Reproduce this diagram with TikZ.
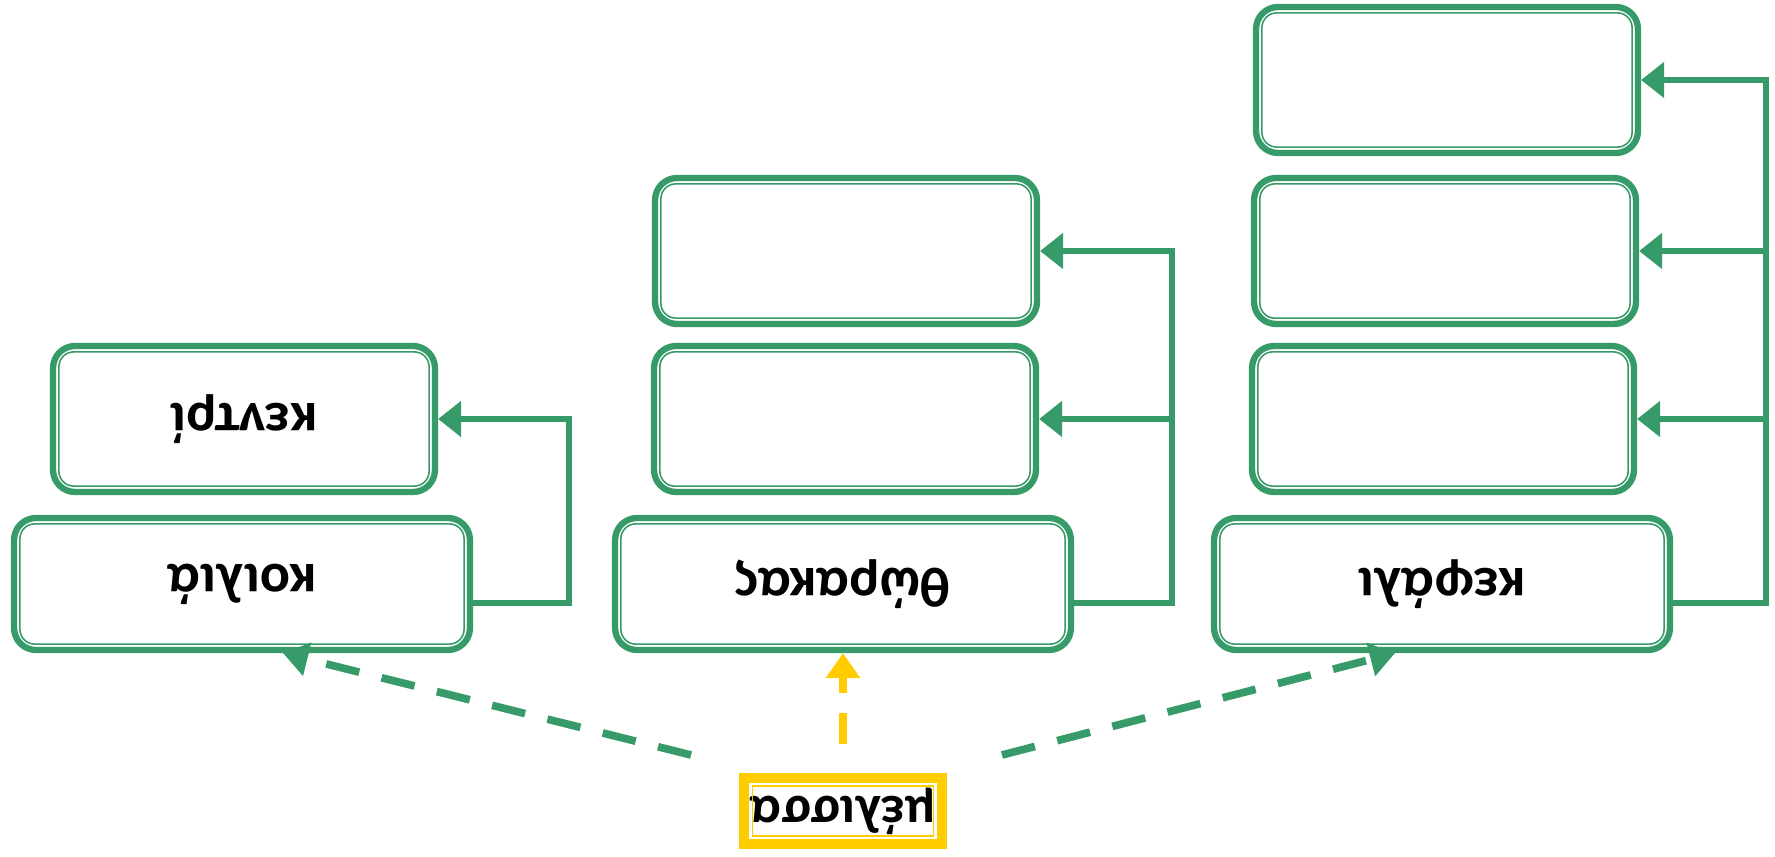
\documentclass[tikz,border=0pt]{standalone}
\usepackage{fontspec}
\setmainfont{Carlito}
\usepackage{tikz}
\usetikzlibrary{arrows.meta, positioning, calc}
\definecolor{partgreen}{RGB}{54, 155, 104}
\definecolor{beeyellow}{RGB}{255, 204, 0}

\begin{document}
\begin{tikzpicture}[
    x=0.02cm, y=-0.02cm,
    part/.style={rectangle, rounded corners=0.44cm, draw=partgreen, line width=3.6pt, fill=white,
      minimum width=9.12cm, minimum height=2.64cm, font=\fontsize{32}{38}\selectfont\bfseries},
    sub/.style={part, minimum width=7.64cm, minimum height=2.92cm},
    root/.style={rectangle, draw=beeyellow, line width=5.5pt, fill=white,
      minimum width=3.95cm, minimum height=1.32cm, font=\fontsize{30.5}{36}\selectfont\bfseries},
    inner/.style={draw=partgreen, line width=0.9pt, rounded corners=0.3cm},
    link/.style={-{Triangle[length=0.46cm, width=0.7cm]}, line width=3pt, partgreen},
    dashlink/.style={-{Triangle[length=0.5cm, width=0.66cm]}, line width=4.4pt, partgreen,
      dash pattern=on 0.68cm off 0.46cm}
    ]
    \useasboundingbox (0,0) rectangle (1775,857);

    % Root
    \node[root] (melissa) at (843,811) {\rotatebox{180}{μέλισσα}};
    \draw[beeyellow, line width=1pt] ($(melissa.south west)+(0.26cm,0.26cm)$) rectangle ($(melissa.north east)-(0.26cm,0.26cm)$);

    % Parts
    \node[part] (kilia) at (242,584) {\rotatebox{180}{κοιλιά}};
    \node[part] (thorakas) at (843,584) {\rotatebox{180}{θώρακας}};
    \node[part] (kefali) at (1442,584) {\rotatebox{180}{κεφάλι}};

    % Sub parts
    \node[sub] (kentri) at (244,419) {\rotatebox{180}{κεντρί}};
    \node[sub] (th1) at (845,419) {};
    \node[sub] (th2) at (846,251) {};
    \node[sub] (ke1) at (1443,419) {};
    \node[sub] (ke2) at (1445,251) {};
    \node[sub] (ke3) at (1447,80) {};

    % Inner lines
    \foreach \b in {kilia, thorakas, kefali, kentri, th1, th2, ke1, ke2, ke3} {
        \draw[inner] ($(\b.south west)+(0.18cm,0.18cm)$) rectangle ($(\b.north east)-(0.18cm,0.18cm)$);
      }

    % Joints
    \coordinate (j1) at (569,603);
    \coordinate (j2) at (1172,603);
    \coordinate (j3) at (1766,603);

    % Arrows
    \draw[link] (kilia.east |- j1) -- (j1) |- (kentri.east);
    \draw[link] (thorakas.east |- j2) -- (j2) |- (th2.east);
    \draw[link] (j2 |- th1.east) -- (th1.east);
    \draw[link] (kefali.east |- j3) -- (j3) |- (ke3.east);
    \draw[link] (j3 |- ke2.east) -- (ke2.east);
    \draw[link] (j3 |- ke1.east) -- (ke1.east);

    % Dashed arrows
    \coordinate (mL) at (691,755);
    \coordinate (mR) at (1002,755);
    \coordinate (mC) at (843,744);
    \draw[dashlink] (mL) -- ($(kilia.south)+(41,0)$);
    \draw[dashlink] (mR) -- ($(kefali.south)+(-47,0)$);
    \draw[dashlink, beeyellow, dash pattern=on 0.62cm off 0.4cm] (mC) -- (thorakas.south);
  \end{tikzpicture}
\end{document}
